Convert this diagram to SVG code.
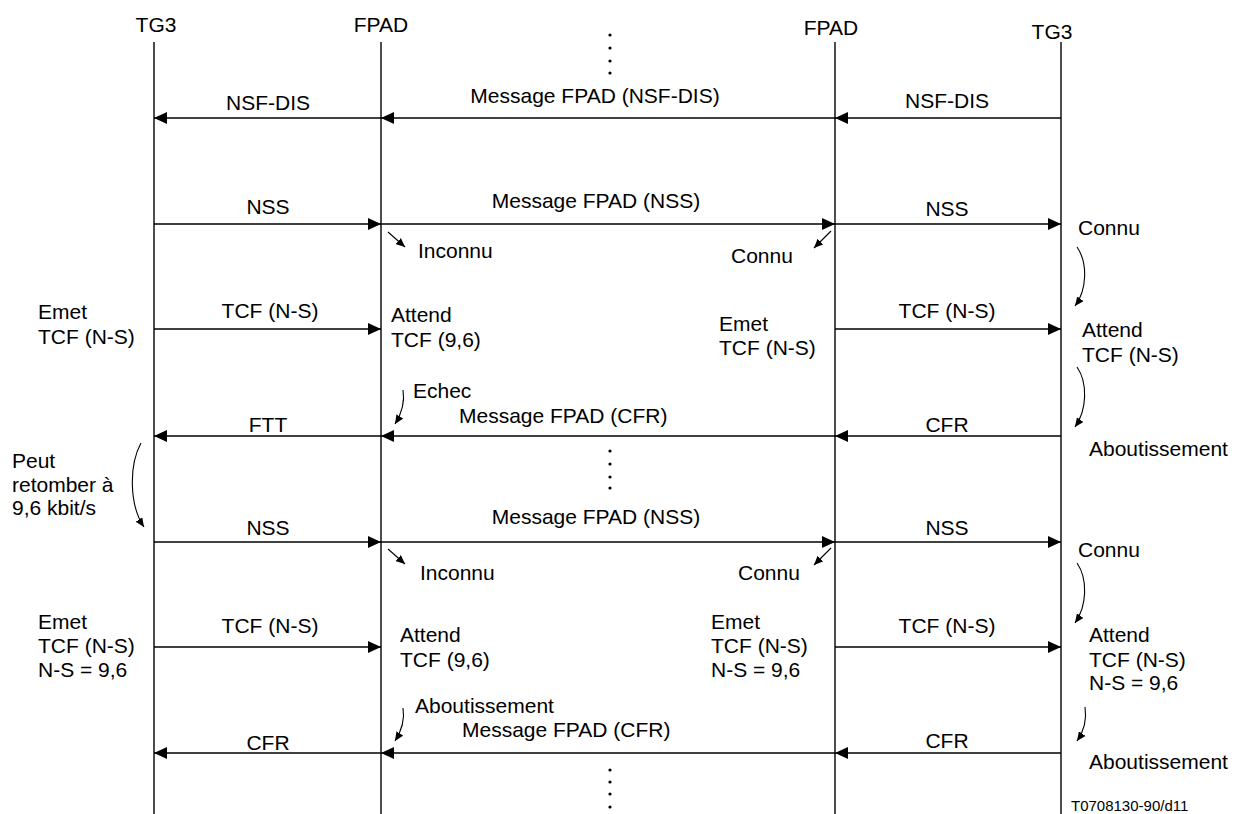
<svg xmlns="http://www.w3.org/2000/svg" width="1242" height="814" viewBox="0 0 1242 814">
<style>
text{font-family:"Liberation Sans",Arial,sans-serif;font-size:21px;fill:#000}
.c{text-anchor:middle}
.ll{stroke:#000;stroke-width:1.4;fill:none}
.msg{stroke:#000;stroke-width:1.5;fill:none;marker-end:url(#big)}
.sm{stroke:#000;stroke-width:1.1;fill:none;marker-end:url(#small)}
.small{font-size:15px}
</style>
<defs>
<marker id="big" viewBox="0 0 13 12" refX="13" refY="6" markerWidth="13" markerHeight="12" orient="auto" markerUnits="userSpaceOnUse"><path d="M0,0 L13,6 L0,12 z" fill="#000"/></marker>
<marker id="small" viewBox="0 0 9 8" refX="9" refY="4" markerWidth="9" markerHeight="8" orient="auto" markerUnits="userSpaceOnUse"><path d="M0,0 L9,4 L0,8 z" fill="#000"/></marker>
</defs>
<rect width="1242" height="814" fill="#fff"/>

<g id="tg3-left"><text class="c" x="156" y="32">TG3</text><line class="ll" x1="154" y1="42" x2="154" y2="814"/></g>
<g id="fpad-left"><text class="c" x="381" y="32">FPAD</text><line class="ll" x1="381" y1="42" x2="381" y2="814"/></g>
<g id="fpad-right"><text class="c" x="831" y="35">FPAD</text><line class="ll" x1="835" y1="42" x2="835" y2="814"/></g>
<g id="tg3-right"><text class="c" x="1052" y="39">TG3</text><line class="ll" x1="1061" y1="42" x2="1061" y2="814"/></g>

<g id="dots" fill="#000">
<circle cx="610" cy="35" r="1.6"/><circle cx="610" cy="48" r="1.6"/><circle cx="610" cy="61" r="1.6"/><circle cx="610" cy="73" r="1.6"/>
<circle cx="610" cy="451" r="1.6"/><circle cx="610" cy="464" r="1.6"/><circle cx="610" cy="477" r="1.6"/><circle cx="610" cy="488" r="1.6"/>
<circle cx="610" cy="770" r="1.6"/><circle cx="610" cy="782" r="1.6"/><circle cx="610" cy="794" r="1.6"/><circle cx="610" cy="807" r="1.6"/>
</g>

<g id="connectors">
<line class="msg" x1="381" y1="118" x2="154" y2="118"/>
<line class="msg" x1="835" y1="118" x2="381" y2="118"/>
<line class="msg" x1="1061" y1="118" x2="835" y2="118"/>

<line class="msg" x1="154" y1="224" x2="381" y2="224"/>
<line class="msg" x1="381" y1="224" x2="835" y2="224"/>
<line class="msg" x1="835" y1="224" x2="1061" y2="224"/>

<line class="msg" x1="154" y1="329" x2="381" y2="329"/>
<line class="msg" x1="835" y1="329" x2="1061" y2="329"/>

<line class="msg" x1="381" y1="436" x2="154" y2="436"/>
<line class="msg" x1="835" y1="436" x2="381" y2="436"/>
<line class="msg" x1="1061" y1="436" x2="835" y2="436"/>

<line class="msg" x1="154" y1="542" x2="381" y2="542"/>
<line class="msg" x1="381" y1="542" x2="835" y2="542"/>
<line class="msg" x1="835" y1="542" x2="1061" y2="542"/>

<line class="msg" x1="154" y1="647" x2="381" y2="647"/>
<line class="msg" x1="835" y1="647" x2="1061" y2="647"/>

<line class="msg" x1="381" y1="753" x2="154" y2="753"/>
<line class="msg" x1="835" y1="753" x2="381" y2="753"/>
<line class="msg" x1="1061" y1="753" x2="835" y2="753"/>

<line class="sm" x1="388" y1="232" x2="405" y2="247"/>
<line class="sm" x1="831" y1="231" x2="814" y2="248"/>
<line class="sm" x1="388" y1="549" x2="405" y2="564"/>
<line class="sm" x1="831" y1="548" x2="814" y2="565"/>

<path class="sm" d="M1077,247 C1088,263 1087,290 1075,306"/>
<path class="sm" d="M1077,367 C1088,383 1087,410 1075,427"/>
<path class="sm" d="M1077,563 C1088,579 1087,606 1075,623"/>
<path class="sm" d="M1085,707 C1087,720 1084,731 1077,741"/>
<path class="sm" d="M403,390 C405,402 402,413 395,424"/>
<path class="sm" d="M403,708 C405,720 402,730 395,741"/>
<path class="sm" d="M141,443 C129,465 129,505 144,527"/>
</g>

<g id="labels">
<text class="c" x="268" y="110">NSF-DIS</text>
<text class="c" x="595" y="103">Message FPAD (NSF-DIS)</text>
<text class="c" x="947" y="108">NSF-DIS</text>

<text class="c" x="268" y="214">NSS</text>
<text class="c" x="596" y="208">Message FPAD (NSS)</text>
<text class="c" x="947" y="216">NSS</text>
<text x="418" y="258">Inconnu</text>
<text x="731" y="263">Connu</text>
<text x="1078" y="235">Connu</text>

<text x="38" y="319">Emet</text><text x="38" y="344">TCF (N-S)</text>
<text class="c" x="270" y="318">TCF (N-S)</text>
<text x="391" y="322">Attend</text><text x="391" y="347">TCF (9,6)</text>
<text x="719" y="331">Emet</text><text x="719" y="355">TCF (N-S)</text>
<text class="c" x="947" y="318">TCF (N-S)</text>
<text x="1082" y="337">Attend</text><text x="1082" y="362">TCF (N-S)</text>

<text x="413" y="398">Echec</text>
<text x="459" y="423">Message FPAD (CFR)</text>
<text class="c" x="268" y="432">FTT</text>
<text class="c" x="947" y="432">CFR</text>
<text x="1089" y="456">Aboutissement</text>

<text x="12" y="468">Peut</text><text x="12" y="492">retomber à</text><text x="12" y="515">9,6 kbit/s</text>

<text class="c" x="268" y="535">NSS</text>
<text class="c" x="596" y="524">Message FPAD (NSS)</text>
<text class="c" x="947" y="535">NSS</text>
<text x="420" y="580">Inconnu</text>
<text x="738" y="580">Connu</text>
<text x="1078" y="557">Connu</text>

<text x="38" y="629">Emet</text><text x="38" y="653">TCF (N-S)</text><text x="38" y="677">N-S = 9,6</text>
<text class="c" x="270" y="633">TCF (N-S)</text>
<text x="400" y="642">Attend</text><text x="400" y="667">TCF (9,6)</text>
<text x="711" y="629">Emet</text><text x="711" y="653">TCF (N-S)</text><text x="711" y="677">N-S = 9,6</text>
<text class="c" x="947" y="633">TCF (N-S)</text>
<text x="1089" y="642">Attend</text><text x="1089" y="667">TCF (N-S)</text><text x="1089" y="690">N-S = 9,6</text>

<text x="415" y="713">Aboutissement</text>
<text x="462" y="737">Message FPAD (CFR)</text>
<text class="c" x="268" y="750">CFR</text>
<text class="c" x="947" y="748">CFR</text>
<text x="1089" y="769">Aboutissement</text>
<text class="small" x="1071" y="811">T0708130-90/d11</text>
</g>
</svg>
